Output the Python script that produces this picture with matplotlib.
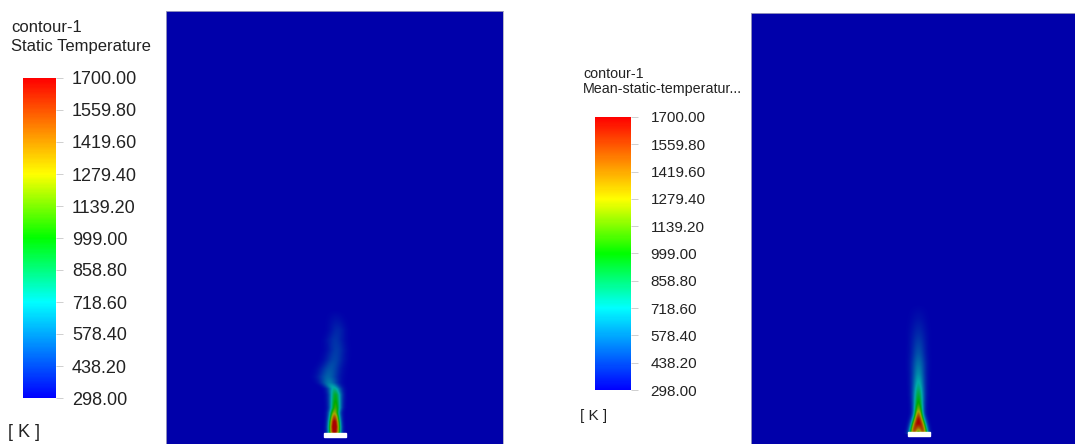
import numpy as np
import matplotlib
import matplotlib.pyplot as plt
from matplotlib.colors import LinearSegmentedColormap, Normalize
from matplotlib.patches import Rectangle

plt.rcParams['font.family'] = ['Liberation Sans', 'DejaVu Sans']

# --- data (lengths in screen px, nozzle at 0) ---
T_MIN, T_MAX = 298.0, 1700.0
tick_values = np.linspace(T_MIN, T_MAX, 11)

# instantaneous static temperature, centreline profile of the plume
inst_h = [0, 3, 8, 13, 18, 22, 27, 33, 40, 46, 52, 58, 66, 75, 85, 95, 105, 115, 125]
inst_T = [1250, 1560, 1620, 1560, 1400, 1220, 1080, 1000, 930, 760, 600, 540, 500, 460, 440, 420, 390, 340, 298]
inst_xc = [0, 0, 0, 0, 0, 0, 1, 1, 1, 0, -5, -6, -4, 0, 2, 1, 3, 2, 1]
inst_w = [3, 3, 3, 3, 3.2, 3.5, 3.8, 4, 4.2, 4.6, 6, 7, 7, 6.5, 6, 6, 5.5, 5.5, 5]
inst_d = [2.2, 2.2, 2.2, 2.0, 1.5, 0.8, 0, 0, 0, 0, 0, 0, 0, 0, 0, 0, 0, 0, 0]

# mean static temperature, centreline profile
mean_h = [0, 5, 10, 15, 20, 25, 30, 40, 50, 60, 70, 80, 90, 100, 115, 130]
mean_T = [1420, 1540, 1560, 1500, 1370, 1180, 1030, 880, 740, 640, 570, 500, 450, 400, 340, 298]
mean_xc = [0] * 16
mean_w = [3.2, 3.2, 3.2, 3.2, 3.2, 3.4, 3.6, 4, 4.3, 4.6, 5, 5, 5.2, 5.5, 5.5, 5.5]
mean_d = [5, 4, 3, 2, 1, 0, 0, 0, 0, 0, 0, 0, 0, 0, 0, 0]

# Fluent style rainbow
stops = [(0.0, '#0000ff'), (0.3, '#00ffff'), (0.5, '#00ff00'),
         (0.7, '#ffff00'), (0.85, '#ff8000'), (1.0, '#ff0000')]
cmap = LinearSegmentedColormap.from_list('fluent', stops)
# the field itself is drawn shaded (darker than the legend)
shade = 0.67
dark_stops = [(p, tuple(shade * c for c in matplotlib.colors.to_rgb(col))) for p, col in stops]
cmap_dark = LinearSegmentedColormap.from_list('fluent_dark', dark_stops)
norm = Normalize(T_MIN, T_MAX)


def build_field(h, t, xc, w, d, x, y):
    X, Y = np.meshgrid(x, y)
    tc = np.interp(Y, h, t, right=T_MIN)
    c = np.interp(Y, h, xc)
    s = np.interp(Y, h, w)
    dd = np.interp(Y, h, d)
    g = 0.5 * (np.exp(-(X - c - dd) ** 2 / (2 * s ** 2)) + np.exp(-(X - c + dd) ** 2 / (2 * s ** 2)))
    g /= 0.5 * (1 + np.exp(-2 * dd ** 2 / s ** 2))
    field = T_MIN + (tc - T_MIN) * g
    field[Y < 0] = T_MIN
    return field


xg = np.arange(-170, 171, 0.5)
yg = np.arange(-12, 426, 0.5)
fields = [build_field(inst_h, inst_T, inst_xc, inst_w, inst_d, xg, yg),
          build_field(mean_h, mean_T, mean_xc, mean_w, mean_d, xg, yg)]

W, H = 1075, 444
fig = plt.figure(figsize=(W / 100, H / 100), dpi=100)

panels = [
    dict(ax=[166, 0, 337, 433], xlim=(-168.5, 168.5), ylim=(-9, 424),
         cbar=[23, 78, 33, 320], labsize=13, pad=6.5,
         title=('contour-1', 'Static Temperature'), tpos=(11, 27, 46), tsize=12,
         unit=(8, 432), usize=13),
    dict(ax=[751, 0, 337, 431], xlim=(-167.5, 169.5), ylim=(-10, 421),
         cbar=[595, 117, 36, 273], labsize=11, pad=9,
         title=('contour-1', 'Mean-static-temperatur...'), tpos=(583, 74, 89), tsize=10.3,
         unit=(580, 416), usize=11),
]

for field, p in zip(fields, panels):
    l, b, w, h = p['ax']
    ax = fig.add_axes([l / W, b / H, w / W, h / H])
    ax.imshow(field, origin='lower', cmap=cmap_dark, norm=norm, interpolation='bilinear',
              extent=[xg[0], xg[-1], yg[0], yg[-1]], aspect='auto')
    ax.add_patch(Rectangle((-11, -2), 22, 4.5, color='white', zorder=3))
    ax.set_xlim(p['xlim'])
    ax.set_ylim(p['ylim'])
    ax.set_xticks([])
    ax.set_yticks([])
    for sp in ax.spines.values():
        sp.set_color('#a8a8c0')
        sp.set_linewidth(0.6)

    cl, ct, cw, ch = p['cbar']
    cax = fig.add_axes([cl / W, (H - ct - ch) / H, cw / W, ch / H])
    cb = matplotlib.colorbar.ColorbarBase(cax, cmap=cmap, norm=norm, ticks=tick_values)
    cb.outline.set_visible(False)
    cb.set_ticklabels(['%.2f' % v for v in tick_values])
    cax.tick_params(axis='y', length=5, width=0.6, color='#c8c8c8',
                    labelsize=p['labsize'], labelcolor='#222222', pad=p['pad'])

    tx, ty1, ty2 = p['tpos']
    fig.text(tx / W, 1 - ty1 / H, p['title'][0], fontsize=p['tsize'], color='#222222', va='center')
    fig.text(tx / W, 1 - ty2 / H, p['title'][1], fontsize=p['tsize'], color='#222222', va='center')
    ux, uy = p['unit']
    fig.text(ux / W, 1 - uy / H, '[ K ]', fontsize=p['usize'], color='#222222', va='center')

fig.savefig('out.png', dpi=100)
